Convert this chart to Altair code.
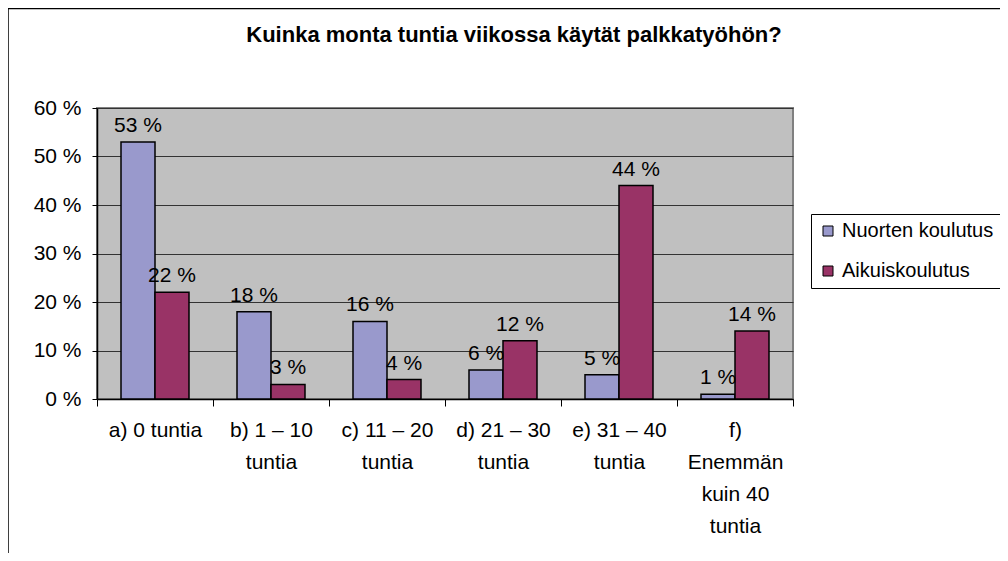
import altair as alt
import pandas as pd

categories = [
    "a) 0 tuntia",
    "b) 1 – 10\ntuntia",
    "c) 11 – 20\ntuntia",
    "d) 21 – 30\ntuntia",
    "e) 31 – 40\ntuntia",
    "f)\nEnemmän\nkuin 40\ntuntia",
]
series = ["Nuorten koulutus", "Aikuiskoulutus"]
nuorten = [53, 18, 16, 6, 5, 1]
aikuis = [22, 3, 4, 12, 44, 14]
y_ticks = [0, 10, 20, 30, 40, 50, 60]
colors = ["#9999CC", "#993366"]
title_text = "Kuinka monta tuntia viikossa käytät palkkatyöhön?"

rows = []
for c, a, b in zip(categories, nuorten, aikuis):
    rows.append({"kategoria": c, "sarja": series[0], "arvo": a})
    rows.append({"kategoria": c, "sarja": series[1], "arvo": b})
df = pd.DataFrame(rows)

FONT = "Liberation Sans"
FS = 21

x_enc = alt.X(
    "kategoria:N",
    sort=categories,
    scale=alt.Scale(paddingInner=0, paddingOuter=0),
    axis=alt.Axis(
        title=None,
        labelAngle=0,
        tickBand="extent",
        labelExpr="split(datum.label, '\\n')",
        labelFont=FONT,
        labelFontSize=FS,
        labelColor="black",
        labelLineHeight=32,
        labelBaseline="top",
        labelPadding=13,
        labelOverlap=False,
        labelLimit=300,
        tickSize=7,
        tickColor="black",
        domainColor="black",
        domainWidth=1.5,
    ),
)
xoff_enc = alt.XOffset(
    "sarja:N", sort=series, scale=alt.Scale(paddingInner=0, paddingOuter=0.706)
)
y_enc = alt.Y(
    "arvo:Q",
    scale=alt.Scale(domain=[0, 60], nice=False),
    axis=alt.Axis(
        title=None,
        values=y_ticks,
        labelExpr="datum.value + ' %'",
        labelFont=FONT,
        labelFontSize=FS,
        labelColor="black",
        labelPadding=11,
        tickSize=5,
        tickColor="black",
        domainColor="black",
        domainWidth=1.5,
        gridColor="#333333",
        gridWidth=1,
    ),
)

base = alt.Chart(df)

bars = base.mark_bar(stroke="black", strokeWidth=1.5, opacity=1).encode(
    x=x_enc,
    xOffset=xoff_enc,
    y=y_enc,
    color=alt.Color(
        "sarja:N",
        sort=series,
        scale=alt.Scale(domain=series, range=colors),
        legend=alt.Legend(
            title=None,
            orient="none",
            legendX=714,
            legendY=106,
            direction="vertical",
            fillColor="white",
            strokeColor="black",
            padding=7,
            cornerRadius=0,
            labelFont=FONT,
            labelFontSize=20,
            labelColor="black",
            labelLimit=300,
            labelOffset=4,
            symbolType="square",
            symbolSize=100,
            symbolStrokeColor="black",
            symbolStrokeWidth=1,
            symbolOpacity=1,
            rowPadding=20,
        ),
    ),
)

labels = base.transform_calculate(lbl="datum.arvo + ' %'").mark_text(
    font=FONT, fontSize=FS, color="black", baseline="alphabetic", dy=-10
).encode(
    x=alt.X("kategoria:N", sort=categories),
    xOffset=alt.XOffset("sarja:N", sort=series),
    y=alt.Y("arvo:Q"),
    text="lbl:N",
)

frame = alt.Chart(pd.DataFrame({"k": [0]})).mark_rect(
    fillOpacity=0, stroke="black", strokeWidth=1.5
).encode(
    x=alt.value(-89), x2=alt.value(1000), y=alt.value(-99.5), y2=alt.value(600)
)

title = alt.Chart(pd.DataFrame({"t": [title_text]})).mark_text(
    font=FONT, fontSize=22, fontWeight="bold", color="black", align="center",
    baseline="middle"
).encode(text="t:N", x=alt.value(417), y=alt.value(-73))

chart = (
    alt.layer(frame, bars, labels, title)
    .properties(
        width=696,
        height=291,
        padding={"left": 89, "top": 100, "right": 207, "bottom": 154},
        autosize=alt.AutoSizeParams(type="none"),
        background="white",
    )
    .configure_view(fill="#C0C0C0", stroke="#808080", strokeWidth=2)
)

chart.save("out.html", embed_options={"renderer": "svg", "actions": False})
